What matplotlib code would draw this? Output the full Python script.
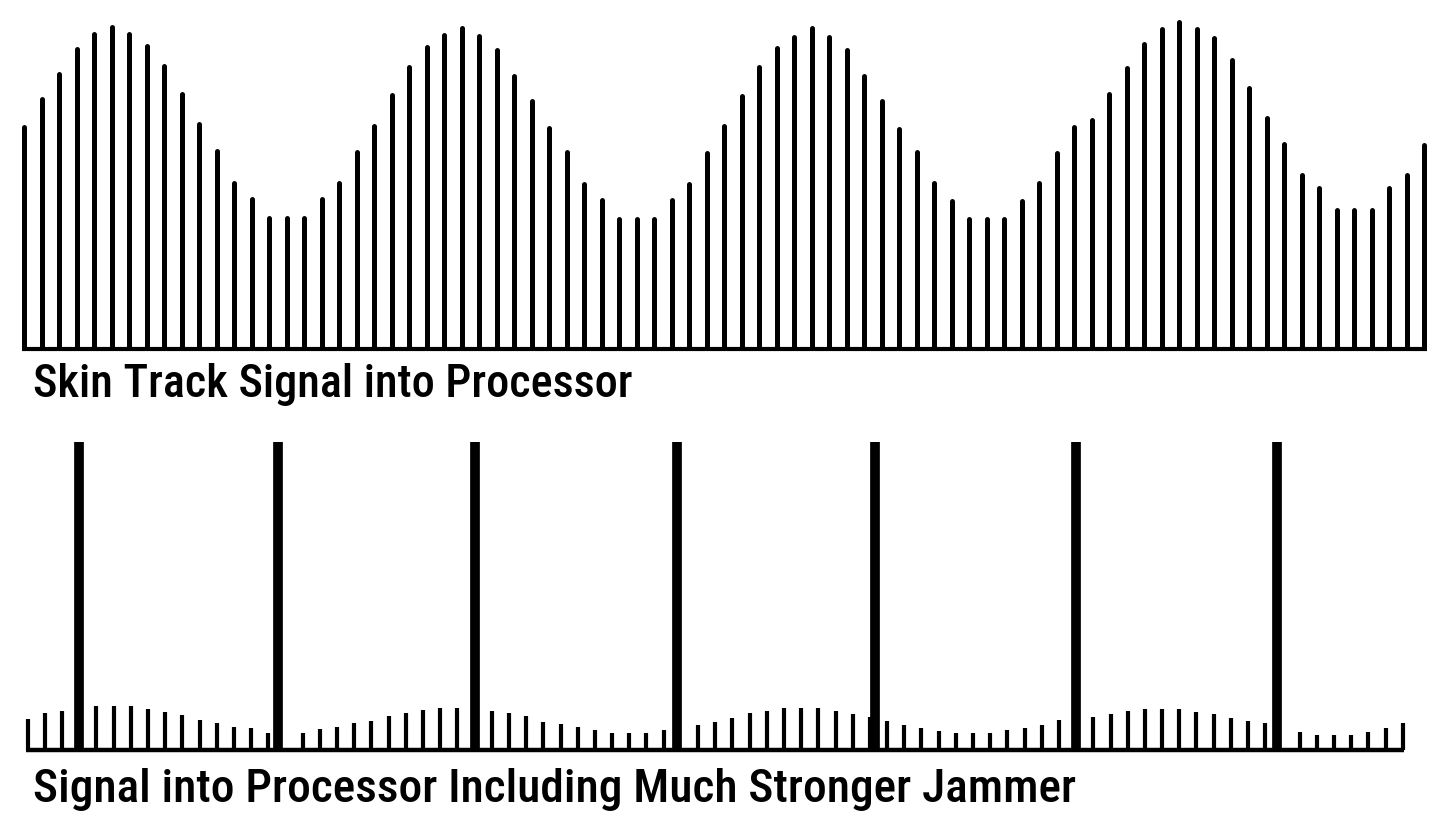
import numpy as np
import matplotlib.pyplot as plt
from matplotlib import font_manager

# skin return amplitudes, one per pulse (81 pulses)
skin_track = [222, 250, 275, 300, 315, 322, 315, 303, 283, 255,
              225, 198, 166, 150, 131, 131, 131, 150, 166, 197,
              223, 254, 282, 302, 314, 321, 313, 299, 273, 248,
              221, 197, 165, 149, 130, 130, 130, 149, 165, 196,
              223, 253, 282, 301, 312, 321, 312, 299, 273, 248,
              220, 197, 166, 148, 130, 130, 130, 148, 166, 196,
              222, 229, 255, 281, 305, 320, 327, 320, 311, 289,
              261, 231, 205, 174, 161, 139, 139, 139, 161, 174,
              204]

# same skin return after the processor gain drops (nan = hidden behind jammer)
nan = np.nan
skin_jammed = [31, 37, 39, nan, 44, 44, 44, 41, 38, 35,
               30, 27, 23, 22, 17, nan, 17, 21, 23, 27,
               29, 34, 37, 40, 42, 42, nan, 39, 37, 34,
               28, 26, 23, 20, 17, 17, 17, 20, nan, 25,
               28, 32, 37, 39, 42, 42, 42, 39, 36, 33,
               29, 25, 22, 19, 17, 17, 17, 20, 22, 25,
               30, nan, 33, 36, 39, 41, 41, 41, 38, 36,
               32, 29, 27, nan, 18, 15, 15, 15, 18, 22,
               27]

# jammer pulses: position in pulse index units and amplitude
jammer_pos = [3.0, 14.58, 26.02, 37.75, 49.29, 60.98, 72.69]
jammer_amp = [308, 308, 308, 308, 308, 308, 308]

top_label = "Skin Track Signal into Processor"
bottom_label = "Signal into Processor Including Much Stronger Jammer"

W, H = 1446, 827
fig = plt.figure(figsize=(W / 100, H / 100), dpi=100, facecolor="white")

# pick a narrow sans if one is around
installed = {(f.name, f.stretch) for f in font_manager.fontManager.ttflist}
names = {n for n, s in installed}
font_kw = {"family": ["Roboto", "DejaVu Sans"]}
for cand in ["Liberation Sans Narrow", "Roboto Condensed", "Open Sans Condensed",
             "DejaVu Sans Condensed", "Noto Sans Condensed"]:
    if cand in names:
        font_kw = {"family": [cand, "DejaVu Sans"]}
        break
else:
    for n, s in installed:
        if n in ("Roboto", "DejaVu Sans", "Noto Sans", "Open Sans") and s in ("condensed", 75, "semi-condensed", 87.5):
            font_kw = {"family": [n, "DejaVu Sans"], "stretch": "condensed"}
            break

# top panel: axes covers pixel rows 0..349, pulses from x=24 to x=1424
n = len(skin_track)
step = (1424 - 24) / (n - 1)
ax1 = fig.add_axes([0, 1 - 349 / H, 1, 349 / H])
ax1.set_xlim(-24 / step, (W - 24) / step)
ax1.set_ylim(0, 349)
x = np.arange(n)
ax1.vlines(x, 0, skin_track, colors="black", linewidth=3.6, capstyle="round")
ax1.hlines(0, x[0] - 0.12, x[-1] + 0.17, colors="black", linewidth=3.0, clip_on=False)
ax1.axis("off")

# bottom panel: axes covers pixel rows 400..750, pulses from x=27.7 to x=1402.7
m = len(skin_jammed)
step2 = (1402.7 - 27.7) / (m - 1)
ax2 = fig.add_axes([0, 1 - 750 / H, 1, 350 / H])
ax2.set_xlim(-27.7 / step2, (W - 27.7) / step2)
ax2.set_ylim(0, 350)
x2 = np.arange(m)
vals = np.array(skin_jammed, dtype=float)
ok = ~np.isnan(vals)
ax2.vlines(x2[ok], 0, vals[ok], colors="black", linewidth=3.0)
ax2.vlines(jammer_pos, -4, jammer_amp, colors="black", linewidth=7.0)
ax2.hlines(0, x2[0] - 0.1, x2[-1] + 0.1, colors="black", linewidth=3.2, clip_on=False)
ax2.axis("off")

t1 = fig.text(33 / W, 1 - 397 / H, top_label, fontsize=35, weight="medium",
              va="baseline", ha="left", color="black", **font_kw)
t2 = fig.text(33 / W, 1 - 802 / H, bottom_label, fontsize=35, weight="medium",
              va="baseline", ha="left", color="black", **font_kw)

# shrink the labels so they end where the reference labels end
fig.canvas.draw()
r = fig.canvas.get_renderer()
for t, right in ((t1, 632), (t2, 1075)):
    w = t.get_window_extent(r).width
    t.set_fontsize(35 * min(1.0, (right - 33) / w))

fig.savefig("out.png", dpi=100, facecolor="white")
